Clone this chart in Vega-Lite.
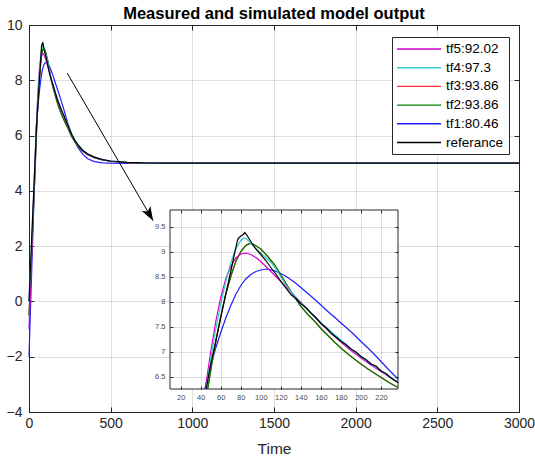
{
  "$schema": "https://vega.github.io/schema/vega-lite/v6.json",
  "width": 490,
  "height": 387,
  "autosize": "none",
  "padding": {"left": 29, "top": 25, "right": 16, "bottom": 49},
  "background": "white",
  "config": {
    "font": "Liberation Sans",
    "view": {"stroke": "#262626", "strokeWidth": 1},
    "axis": {
      "domainColor": "#262626", "tickColor": "#262626", "labelColor": "#262626",
      "titleColor": "#262626", "gridColor": "#262626", "gridOpacity": 0.15,
      "labelFont": "Liberation Sans", "titleFont": "Liberation Sans", "titleFontWeight": "normal",
      "labelFlush": false, "labelOverlap": false
    }
  },
  "title": {
    "text": "Measured and simulated model output", "fontSize": 16.5, "fontWeight": "bold",
    "color": "#000000", "frame": "group", "anchor": "middle", "baseline": "alphabetic", "offset": -17
  },
  "datasets": {
    "curves": [
      {"s":"tf1:80.46","t":0,"v":-2},{"s":"tf1:80.46","t":10,"v":-0.1},{"s":"tf1:80.46","t":20,"v":1.75},{"s":"tf1:80.46","t":30,"v":3.6},{"s":"tf1:80.46","t":40,"v":5.5},{"s":"tf1:80.46","t":44,"v":6.25},{"s":"tf1:80.46","t":50,"v":6.72},{"s":"tf1:80.46","t":55,"v":7.07},{"s":"tf1:80.46","t":60,"v":7.38},{"s":"tf1:80.46","t":65,"v":7.67},{"s":"tf1:80.46","t":70,"v":7.92},{"s":"tf1:80.46","t":75,"v":8.14},{"s":"tf1:80.46","t":80,"v":8.32},{"s":"tf1:80.46","t":85,"v":8.45},{"s":"tf1:80.46","t":90,"v":8.54},{"s":"tf1:80.46","t":95,"v":8.6},{"s":"tf1:80.46","t":100,"v":8.63},{"s":"tf1:80.46","t":106,"v":8.65},{"s":"tf1:80.46","t":113,"v":8.62},{"s":"tf1:80.46","t":120,"v":8.56},{"s":"tf1:80.46","t":127,"v":8.48},{"s":"tf1:80.46","t":134,"v":8.38},{"s":"tf1:80.46","t":140,"v":8.28},{"s":"tf1:80.46","t":147,"v":8.16},{"s":"tf1:80.46","t":154,"v":8.04},{"s":"tf1:80.46","t":160,"v":7.93},{"s":"tf1:80.46","t":167,"v":7.8},{"s":"tf1:80.46","t":174,"v":7.68},{"s":"tf1:80.46","t":180,"v":7.57},{"s":"tf1:80.46","t":187,"v":7.45},{"s":"tf1:80.46","t":194,"v":7.32},{"s":"tf1:80.46","t":200,"v":7.2},{"s":"tf1:80.46","t":207,"v":7.07},{"s":"tf1:80.46","t":214,"v":6.93},{"s":"tf1:80.46","t":221,"v":6.78},{"s":"tf1:80.46","t":228,"v":6.63},{"s":"tf1:80.46","t":237,"v":6.45},{"s":"tf1:80.46","t":260,"v":6.08},{"s":"tf1:80.46","t":280,"v":5.8},{"s":"tf1:80.46","t":300,"v":5.56},{"s":"tf1:80.46","t":330,"v":5.32},{"s":"tf1:80.46","t":360,"v":5.16},{"s":"tf1:80.46","t":400,"v":5.06},{"s":"tf1:80.46","t":450,"v":5.01},{"s":"tf1:80.46","t":500,"v":5.0},{"s":"tf1:80.46","t":600,"v":4.99},{"s":"tf1:80.46","t":800,"v":5.0},{"s":"tf1:80.46","t":3000,"v":5.0},

      {"s":"tf3:93.86","t":0,"v":-0.5},{"s":"tf3:93.86","t":10,"v":0.9},{"s":"tf3:93.86","t":20,"v":2.3},{"s":"tf3:93.86","t":30,"v":3.7},{"s":"tf3:93.86","t":40,"v":5.15},{"s":"tf3:93.86","t":47,"v":6.25},{"s":"tf3:93.86","t":50,"v":6.62},{"s":"tf3:93.86","t":55,"v":7.2},{"s":"tf3:93.86","t":60,"v":7.7},{"s":"tf3:93.86","t":65,"v":8.15},{"s":"tf3:93.86","t":70,"v":8.5},{"s":"tf3:93.86","t":75,"v":8.8},{"s":"tf3:93.86","t":80,"v":9.0},{"s":"tf3:93.86","t":85,"v":9.12},{"s":"tf3:93.86","t":89,"v":9.16},{"s":"tf3:93.86","t":93,"v":9.14},{"s":"tf3:93.86","t":100,"v":9.05},{"s":"tf3:93.86","t":107,"v":8.9},{"s":"tf3:93.86","t":114,"v":8.73},{"s":"tf3:93.86","t":120,"v":8.53},{"s":"tf3:93.86","t":127,"v":8.3},{"s":"tf3:93.86","t":134,"v":8.08},{"s":"tf3:93.86","t":140,"v":7.9},{"s":"tf3:93.86","t":147,"v":7.74},{"s":"tf3:93.86","t":154,"v":7.6},{"s":"tf3:93.86","t":160,"v":7.46},{"s":"tf3:93.86","t":167,"v":7.32},{"s":"tf3:93.86","t":174,"v":7.18},{"s":"tf3:93.86","t":180,"v":7.07},{"s":"tf3:93.86","t":187,"v":6.95},{"s":"tf3:93.86","t":194,"v":6.84},{"s":"tf3:93.86","t":200,"v":6.75},{"s":"tf3:93.86","t":207,"v":6.65},{"s":"tf3:93.86","t":214,"v":6.56},{"s":"tf3:93.86","t":221,"v":6.47},{"s":"tf3:93.86","t":228,"v":6.38},{"s":"tf3:93.86","t":237,"v":6.28},{"s":"tf3:93.86","t":260,"v":5.98},{"s":"tf3:93.86","t":280,"v":5.78},{"s":"tf3:93.86","t":300,"v":5.61},{"s":"tf3:93.86","t":330,"v":5.43},{"s":"tf3:93.86","t":360,"v":5.31},{"s":"tf3:93.86","t":400,"v":5.2},{"s":"tf3:93.86","t":450,"v":5.12},{"s":"tf3:93.86","t":500,"v":5.07},{"s":"tf3:93.86","t":600,"v":5.02},{"s":"tf3:93.86","t":700,"v":5.01},{"s":"tf3:93.86","t":850,"v":5.0},{"s":"tf3:93.86","t":3000,"v":5.0},

      {"s":"tf2:93.86","t":0,"v":-0.5},{"s":"tf2:93.86","t":10,"v":0.9},{"s":"tf2:93.86","t":20,"v":2.3},{"s":"tf2:93.86","t":30,"v":3.7},{"s":"tf2:93.86","t":40,"v":5.15},{"s":"tf2:93.86","t":47,"v":6.25},{"s":"tf2:93.86","t":50,"v":6.62},{"s":"tf2:93.86","t":55,"v":7.2},{"s":"tf2:93.86","t":60,"v":7.7},{"s":"tf2:93.86","t":65,"v":8.15},{"s":"tf2:93.86","t":70,"v":8.5},{"s":"tf2:93.86","t":75,"v":8.8},{"s":"tf2:93.86","t":80,"v":9.0},{"s":"tf2:93.86","t":85,"v":9.12},{"s":"tf2:93.86","t":89,"v":9.16},{"s":"tf2:93.86","t":93,"v":9.14},{"s":"tf2:93.86","t":100,"v":9.05},{"s":"tf2:93.86","t":107,"v":8.9},{"s":"tf2:93.86","t":114,"v":8.73},{"s":"tf2:93.86","t":120,"v":8.53},{"s":"tf2:93.86","t":127,"v":8.3},{"s":"tf2:93.86","t":134,"v":8.08},{"s":"tf2:93.86","t":140,"v":7.9},{"s":"tf2:93.86","t":147,"v":7.74},{"s":"tf2:93.86","t":154,"v":7.6},{"s":"tf2:93.86","t":160,"v":7.46},{"s":"tf2:93.86","t":167,"v":7.32},{"s":"tf2:93.86","t":174,"v":7.18},{"s":"tf2:93.86","t":180,"v":7.07},{"s":"tf2:93.86","t":187,"v":6.95},{"s":"tf2:93.86","t":194,"v":6.84},{"s":"tf2:93.86","t":200,"v":6.75},{"s":"tf2:93.86","t":207,"v":6.65},{"s":"tf2:93.86","t":214,"v":6.56},{"s":"tf2:93.86","t":221,"v":6.47},{"s":"tf2:93.86","t":228,"v":6.38},{"s":"tf2:93.86","t":237,"v":6.28},{"s":"tf2:93.86","t":260,"v":5.98},{"s":"tf2:93.86","t":280,"v":5.78},{"s":"tf2:93.86","t":300,"v":5.61},{"s":"tf2:93.86","t":330,"v":5.43},{"s":"tf2:93.86","t":360,"v":5.31},{"s":"tf2:93.86","t":400,"v":5.2},{"s":"tf2:93.86","t":450,"v":5.12},{"s":"tf2:93.86","t":500,"v":5.07},{"s":"tf2:93.86","t":600,"v":5.02},{"s":"tf2:93.86","t":700,"v":5.01},{"s":"tf2:93.86","t":850,"v":5.0},{"s":"tf2:93.86","t":3000,"v":5.0},

      {"s":"tf5:92.02","t":0,"v":-1},{"s":"tf5:92.02","t":10,"v":0.7},{"s":"tf5:92.02","t":20,"v":2.4},{"s":"tf5:92.02","t":30,"v":4.0},{"s":"tf5:92.02","t":40,"v":5.6},{"s":"tf5:92.02","t":44.5,"v":6.25},{"s":"tf5:92.02","t":50,"v":7.0},{"s":"tf5:92.02","t":55,"v":7.6},{"s":"tf5:92.02","t":60,"v":8.08},{"s":"tf5:92.02","t":65,"v":8.45},{"s":"tf5:92.02","t":70,"v":8.7},{"s":"tf5:92.02","t":75,"v":8.87},{"s":"tf5:92.02","t":80,"v":8.95},{"s":"tf5:92.02","t":85,"v":8.97},{"s":"tf5:92.02","t":90,"v":8.94},{"s":"tf5:92.02","t":95,"v":8.88},{"s":"tf5:92.02","t":100,"v":8.8},{"s":"tf5:92.02","t":110,"v":8.6},{"s":"tf5:92.02","t":120,"v":8.4},{"s":"tf5:92.02","t":130,"v":8.19},{"s":"tf5:92.02","t":140,"v":7.98},{"s":"tf5:92.02","t":150,"v":7.77},{"s":"tf5:92.02","t":160,"v":7.56},{"s":"tf5:92.02","t":170,"v":7.37},{"s":"tf5:92.02","t":180,"v":7.19},{"s":"tf5:92.02","t":190,"v":7.02},{"s":"tf5:92.02","t":200,"v":6.87},{"s":"tf5:92.02","t":210,"v":6.73},{"s":"tf5:92.02","t":220,"v":6.6},{"s":"tf5:92.02","t":230,"v":6.47},{"s":"tf5:92.02","t":237,"v":6.38},{"s":"tf5:92.02","t":260,"v":6.05},{"s":"tf5:92.02","t":280,"v":5.83},{"s":"tf5:92.02","t":300,"v":5.65},{"s":"tf5:92.02","t":330,"v":5.45},{"s":"tf5:92.02","t":360,"v":5.32},{"s":"tf5:92.02","t":400,"v":5.2},{"s":"tf5:92.02","t":450,"v":5.12},{"s":"tf5:92.02","t":500,"v":5.07},{"s":"tf5:92.02","t":600,"v":5.02},{"s":"tf5:92.02","t":700,"v":5.01},{"s":"tf5:92.02","t":850,"v":5.0},{"s":"tf5:92.02","t":3000,"v":5.0},

      {"s":"tf4:97.3","t":0,"v":0},{"s":"tf4:97.3","t":10,"v":1.3},{"s":"tf4:97.3","t":20,"v":2.7},{"s":"tf4:97.3","t":30,"v":4.1},{"s":"tf4:97.3","t":40,"v":5.45},{"s":"tf4:97.3","t":45.5,"v":6.25},{"s":"tf4:97.3","t":50,"v":6.85},{"s":"tf4:97.3","t":55,"v":7.45},{"s":"tf4:97.3","t":60,"v":7.95},{"s":"tf4:97.3","t":65,"v":8.4},{"s":"tf4:97.3","t":70,"v":8.78},{"s":"tf4:97.3","t":75,"v":9.05},{"s":"tf4:97.3","t":80,"v":9.22},{"s":"tf4:97.3","t":83,"v":9.27},{"s":"tf4:97.3","t":86,"v":9.25},{"s":"tf4:97.3","t":90,"v":9.16},{"s":"tf4:97.3","t":95,"v":9.06},{"s":"tf4:97.3","t":100,"v":8.97},{"s":"tf4:97.3","t":105,"v":8.88},{"s":"tf4:97.3","t":110,"v":8.78},{"s":"tf4:97.3","t":115,"v":8.65},{"s":"tf4:97.3","t":120,"v":8.49},{"s":"tf4:97.3","t":125,"v":8.33},{"s":"tf4:97.3","t":130,"v":8.2},{"s":"tf4:97.3","t":135,"v":8.08},{"s":"tf4:97.3","t":140,"v":7.97},{"s":"tf4:97.3","t":150,"v":7.77},{"s":"tf4:97.3","t":160,"v":7.58},{"s":"tf4:97.3","t":170,"v":7.4},{"s":"tf4:97.3","t":180,"v":7.23},{"s":"tf4:97.3","t":190,"v":7.06},{"s":"tf4:97.3","t":200,"v":6.9},{"s":"tf4:97.3","t":210,"v":6.76},{"s":"tf4:97.3","t":220,"v":6.62},{"s":"tf4:97.3","t":230,"v":6.48},{"s":"tf4:97.3","t":237,"v":6.39},{"s":"tf4:97.3","t":260,"v":6.06},{"s":"tf4:97.3","t":280,"v":5.85},{"s":"tf4:97.3","t":300,"v":5.67},{"s":"tf4:97.3","t":330,"v":5.47},{"s":"tf4:97.3","t":360,"v":5.34},{"s":"tf4:97.3","t":400,"v":5.22},{"s":"tf4:97.3","t":450,"v":5.13},{"s":"tf4:97.3","t":500,"v":5.08},{"s":"tf4:97.3","t":600,"v":5.03},{"s":"tf4:97.3","t":700,"v":5.01},{"s":"tf4:97.3","t":850,"v":5.0},{"s":"tf4:97.3","t":3000,"v":5.0},

      {"s":"referance","t":0,"v":0},{"s":"referance","t":10,"v":1.35},{"s":"referance","t":20,"v":2.75},{"s":"referance","t":30,"v":4.1},{"s":"referance","t":40,"v":5.45},{"s":"referance","t":45.5,"v":6.25},{"s":"referance","t":50,"v":6.75},{"s":"referance","t":55,"v":7.2},{"s":"referance","t":60,"v":7.68},{"s":"referance","t":65,"v":8.15},{"s":"referance","t":70,"v":8.6},{"s":"referance","t":74,"v":8.98},{"s":"referance","t":77,"v":9.25},{"s":"referance","t":80,"v":9.31},{"s":"referance","t":82,"v":9.33},{"s":"referance","t":84,"v":9.38},{"s":"referance","t":86,"v":9.33},{"s":"referance","t":90,"v":9.2},{"s":"referance","t":95,"v":9.05},{"s":"referance","t":100,"v":8.94},{"s":"referance","t":105,"v":8.82},{"s":"referance","t":110,"v":8.68},{"s":"referance","t":115,"v":8.55},{"s":"referance","t":120,"v":8.4},{"s":"referance","t":125,"v":8.27},{"s":"referance","t":130,"v":8.14},{"s":"referance","t":135,"v":8.06},{"s":"referance","t":140,"v":7.95},{"s":"referance","t":145,"v":7.88},{"s":"referance","t":150,"v":7.77},{"s":"referance","t":155,"v":7.68},{"s":"referance","t":160,"v":7.56},{"s":"referance","t":165,"v":7.48},{"s":"referance","t":170,"v":7.37},{"s":"referance","t":175,"v":7.29},{"s":"referance","t":180,"v":7.2},{"s":"referance","t":185,"v":7.14},{"s":"referance","t":190,"v":7.05},{"s":"referance","t":195,"v":6.99},{"s":"referance","t":200,"v":6.9},{"s":"referance","t":205,"v":6.84},{"s":"referance","t":210,"v":6.75},{"s":"referance","t":215,"v":6.71},{"s":"referance","t":220,"v":6.61},{"s":"referance","t":225,"v":6.56},{"s":"referance","t":230,"v":6.47},{"s":"referance","t":237,"v":6.38},{"s":"referance","t":260,"v":6.05},{"s":"referance","t":280,"v":5.84},{"s":"referance","t":300,"v":5.66},{"s":"referance","t":330,"v":5.46},{"s":"referance","t":360,"v":5.33},{"s":"referance","t":400,"v":5.22},{"s":"referance","t":450,"v":5.13},{"s":"referance","t":500,"v":5.08},{"s":"referance","t":600,"v":5.03},{"s":"referance","t":700,"v":5.01},{"s":"referance","t":850,"v":5.0},{"s":"referance","t":1000,"v":5.0},{"s":"referance","t":1500,"v":5.0},{"s":"referance","t":2000,"v":5.0},{"s":"referance","t":2500,"v":5.0},{"s":"referance","t":3000,"v":5.0}
    ],
    "arrow": [{"x0": 234, "y0": 8.26, "x1": 760, "y1": 2.92}]
  },
  "layer": [
    {
      "layer": [
        {
          "data": {"name": "curves"},
          "mark": {"type": "line", "strokeWidth": 1.2},
          "encoding": {
            "x": {"field": "t", "type": "quantitative",
              "scale": {"domain": [0, 3000], "nice": false, "zero": false},
              "axis": {"orient": "bottom", "values": [0, 500, 1000, 1500, 2000, 2500, 3000], "format": "d",
                "labelFontSize": 14, "tickSize": -5, "labelPadding": 9, "grid": true,
                "title": "Time", "titleFontSize": 15.5, "titlePadding": 11}},
            "y": {"field": "v", "type": "quantitative",
              "scale": {"domain": [-4, 10], "nice": false, "zero": false},
              "axis": {"orient": "left", "values": [-4, -2, 0, 2, 4, 6, 8, 10],
                "labelFontSize": 14, "tickSize": -5, "labelPadding": 12, "grid": true, "title": null}},
            "color": {"field": "s", "type": "nominal",
              "scale": {"domain": ["tf5:92.02", "tf4:97.3", "tf3:93.86", "tf2:93.86", "tf1:80.46", "referance"],
                "range": ["#d400d4", "#33c9c9", "#ff3030", "#008000", "#1f1fff", "#000000"]},
              "legend": {"title": null, "orient": "none", "legendX": 363, "legendY": 12,
                "symbolType": "M-3.5,0H3.5", "symbolSize": 158, "symbolStrokeWidth": 1.4,
                "symbolOffset": 15, "labelOffset": 20,
                "labelFontSize": 13.5, "labelColor": "#000000", "labelFont": "Liberation Sans",
                "strokeColor": "#262626", "fillColor": "white", "padding": 5, "rowPadding": 4.7}}
          }
        },
        {
          "data": {"name": "arrow"},
          "mark": {"type": "rule", "color": "#000000", "strokeWidth": 1},
          "encoding": {
            "x": {"field": "x0", "type": "quantitative", "scale": {"domain": [0, 3000], "nice": false, "zero": false}, "axis": null},
            "y": {"field": "y0", "type": "quantitative", "scale": {"domain": [-4, 10], "nice": false, "zero": false}, "axis": null},
            "x2": {"field": "x1"},
            "y2": {"field": "y1"}
          }
        },
        {
          "data": {"name": "arrow"},
          "mark": {"type": "point", "shape": "M0,0L0.7,2L0,1.5L-0.7,2Z", "filled": true, "color": "#000000",
            "size": 200, "angle": 150, "opacity": 1},
          "encoding": {
            "x": {"field": "x1", "type": "quantitative", "scale": {"domain": [0, 3000], "nice": false, "zero": false},
              "axis": {"orient": "top", "values": [0, 500, 1000, 1500, 2000, 2500, 3000], "labels": false,
                "tickSize": -5, "grid": false, "domain": false, "title": null}},
            "y": {"field": "y1", "type": "quantitative", "scale": {"domain": [-4, 10], "nice": false, "zero": false},
              "axis": {"orient": "right", "values": [-4, -2, 0, 2, 4, 6, 8, 10], "labels": false,
                "tickSize": -5, "grid": false, "domain": false, "title": null}}
          }
        }
      ],
      "resolve": {"axis": {"x": "independent", "y": "independent"}}
    },
    {
      "layer": [
        {
          "data": {"values": [{}]},
          "mark": {"type": "rect", "fill": "white", "stroke": "#262626", "strokeWidth": 1},
          "encoding": {
            "x": {"datum": 9.3, "type": "quantitative",
              "scale": {"domain": [9.3, 237], "range": [141, 369], "nice": false, "zero": false},
              "axis": {"orient": "top", "offset": -185, "values": [20, 40, 60, 80, 100, 120, 140, 160, 180, 200, 220],
                "labels": false, "tickSize": -3, "grid": true, "domain": false, "title": null, "zindex": 1}},
            "x2": {"datum": 237},
            "y": {"datum": 6.25, "type": "quantitative",
              "scale": {"domain": [6.25, 9.83], "range": [364, 185], "nice": false, "zero": false},
              "axis": {"orient": "left", "offset": -141, "values": [6.5, 7, 7.5, 8, 8.5, 9, 9.5], "format": "~g",
                "labelFontSize": 7.5, "labelColor": "#4d4d4d", "tickSize": -3, "labelPadding": 8,
                "grid": true, "domain": false, "title": null, "zindex": 1}},
            "y2": {"datum": 9.83}
          }
        },
        {
          "data": {"name": "curves"},
          "transform": [{"filter": "datum.t <= 237 && datum.v >= 6.24"}],
          "mark": {"type": "line", "strokeWidth": 1.2},
          "encoding": {
            "x": {"field": "t", "type": "quantitative",
              "scale": {"domain": [9.3, 237], "range": [141, 369], "nice": false, "zero": false},
              "axis": {"orient": "bottom", "offset": -23, "values": [20, 40, 60, 80, 100, 120, 140, 160, 180, 200, 220],
                "labelFontSize": 7.5, "labelColor": "#4d4d4d", "tickSize": -3, "labelPadding": 7,
                "grid": false, "domain": false, "title": null, "zindex": 1}},
            "y": {"field": "v", "type": "quantitative",
              "scale": {"domain": [6.25, 9.83], "range": [364, 185], "nice": false, "zero": false},
              "axis": {"orient": "right", "offset": -121, "values": [6.5, 7, 7.5, 8, 8.5, 9, 9.5],
                "labels": false, "tickSize": -3, "grid": false, "domain": false, "title": null, "zindex": 1}},
            "color": {"field": "s", "type": "nominal", "legend": null}
          }
        }
      ],
      "resolve": {"axis": {"x": "independent", "y": "independent"}}
    }
  ],
  "resolve": {"scale": {"x": "independent", "y": "independent"}}
}
